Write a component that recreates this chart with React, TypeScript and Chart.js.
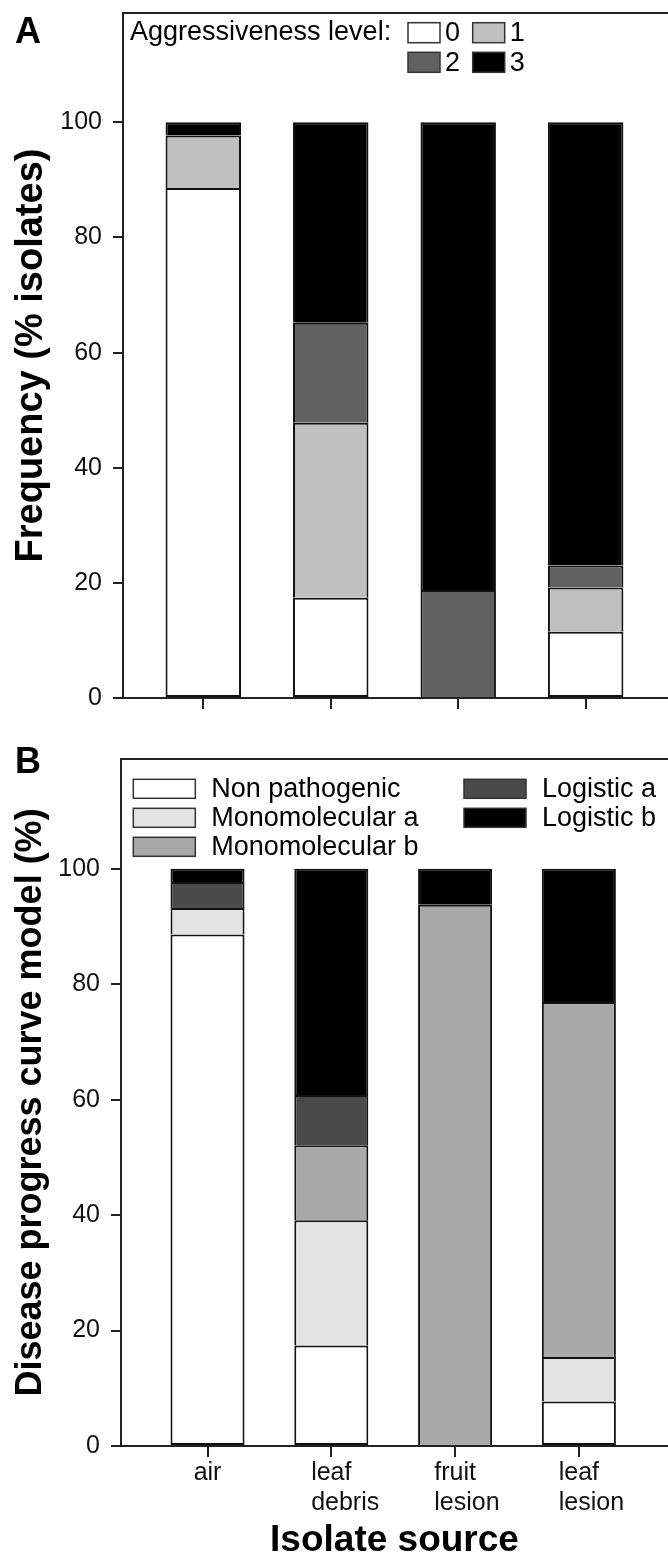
import React, { useEffect, useRef } from "react";
import { Chart, registerables } from "chart.js";

Chart.register(...registerables);

// ---------- data ----------
const categories: (string | string[])[] = ["air", ["leaf", "debris"], ["fruit", "lesion"], ["leaf", "lesion"]];
const yTicks = [0, 20, 40, 60, 80, 100];

// Panel A: aggressiveness level (% isolates)
const aggLevels = ["0", "1", "2", "3"];
const aggLevel0 = [88.6, 17.4, 0, 11.5];
const aggLevel1 = [9.1, 30.4, 0, 7.7];
const aggLevel2 = [0, 17.4, 18.75, 3.8];
const aggLevel3 = [2.3, 34.8, 81.25, 77.0];

// Panel B: disease progress curve model (%)
const modelNames = ["Non pathogenic", "Monomolecular a", "Monomolecular b", "Logistic a", "Logistic b"];
const nonPathogenic = [88.6, 17.4, 0, 7.7];
const monomolecularA = [4.6, 21.7, 0, 7.7];
const monomolecularB = [0, 13.0, 93.75, 61.5];
const logisticA = [4.5, 8.7, 0, 0];
const logisticB = [2.3, 39.2, 6.25, 23.1];

const aggColors = ["#ffffff", "#c0c0c0", "#616161", "#000000"];
const modelColors = ["#ffffff", "#e3e3e3", "#a9a9a9", "#4a4a4a", "#000000"];

const FONT = '"Liberation Sans", Arial, Helvetica, sans-serif';

type Spec = {
  top: number;
  height: number;
  padTop: number;
  yWidth: number;
  xHeight: number;
  xMin: number;
  xMax: number;
  catPct: number;
  yTitle: string;
  yTitleSize: number;
  xTitle: string | null;
  showLabels: boolean;
  letter: string;
  names: string[];
  series: number[][];
  colors: string[];
  legend: {
    title: string | null;
    titleX: number;
    titleY: number;
    fontSize: number;
    boxW: number;
    boxH: number;
    textGap: number;
    pos: (i: number) => [number, number];
  };
};

const specA: Spec = {
  top: 0,
  height: 740,
  padTop: 13,
  yWidth: 123,
  xHeight: 42,
  xMin: -0.63,
  xMax: 3.646,
  catPct: 0.592,
  yTitle: "Frequency (% isolates)",
  yTitleSize: 38,
  xTitle: null,
  showLabels: false,
  letter: "A",
  names: aggLevels,
  series: [aggLevel0, aggLevel1, aggLevel2, aggLevel3],
  colors: aggColors,
  legend: {
    title: "Aggressiveness level:",
    titleX: 130,
    titleY: 33,
    fontSize: 27,
    boxW: 32,
    boxH: 20,
    textGap: 37,
    pos: (i) => [408 + (i % 2) * 64.7, 22.7 + Math.floor(i / 2) * 29.6],
  },
};

const specB: Spec = {
  top: 730,
  height: 826,
  padTop: 29,
  yWidth: 121,
  xHeight: 110,
  xMin: -0.699,
  xMax: 3.72,
  catPct: 0.598,
  yTitle: "Disease progress curve model (%)",
  yTitleSize: 36,
  xTitle: "Isolate source",
  showLabels: true,
  letter: "B",
  names: modelNames,
  series: [nonPathogenic, monomolecularA, monomolecularB, logisticA, logisticB],
  colors: modelColors,
  legend: {
    title: null,
    titleX: 0,
    titleY: 0,
    fontSize: 27,
    boxW: 62,
    boxH: 19,
    textGap: 78,
    pos: (i) => (i < 3 ? [133.3, 49.3 + i * 29] : [464, 49.3 + (i - 3) * 29]),
  },
};

function buildChart(canvas: HTMLCanvasElement, spec: Spec) {
  const decor = {
    id: "decor" + spec.letter,
    afterDraw(chart: any) {
      const ctx = chart.ctx as CanvasRenderingContext2D;
      const { left, right, top, bottom } = chart.chartArea;
      ctx.save();
      // top frame line
      ctx.strokeStyle = "#222";
      ctx.lineWidth = 2;
      ctx.beginPath();
      ctx.moveTo(left - 1, top);
      ctx.lineTo(right, top);
      ctx.stroke();
      // panel letter
      ctx.fillStyle = "#000";
      ctx.font = `bold 36px ${FONT}`;
      ctx.textBaseline = "alphabetic";
      ctx.textAlign = "left";
      ctx.fillText(spec.letter, 15, 43);
      // category labels: first line centred on the tick, following lines left-aligned with it
      if (spec.showLabels) {
        const xs = chart.scales.x;
        ctx.font = `25px ${FONT}`;
        ctx.fillStyle = "#111";
        categories.forEach((lab, i) => {
          const lines = Array.isArray(lab) ? lab : [lab];
          const cx = xs.getPixelForValue(i);
          const w0 = ctx.measureText(lines[0]).width;
          lines.forEach((ln, k) => {
            ctx.fillText(ln, cx - w0 / 2, bottom + 34 + k * 30);
          });
        });
      }
      // legend
      const lg = spec.legend;
      ctx.font = `${lg.fontSize}px ${FONT}`;
      ctx.textBaseline = "middle";
      if (lg.title) {
        ctx.fillStyle = "#000";
        ctx.fillText(lg.title, lg.titleX, lg.titleY);
      }
      chart.data.datasets.forEach((ds: any, i: number) => {
        const [bx, by] = lg.pos(i);
        ctx.fillStyle = ds.backgroundColor;
        ctx.fillRect(bx, by, lg.boxW, lg.boxH);
        ctx.strokeStyle = "#333";
        ctx.lineWidth = 1.5;
        ctx.strokeRect(bx, by, lg.boxW, lg.boxH);
        ctx.fillStyle = "#000";
        ctx.fillText(ds.label, bx + lg.textGap, by + lg.boxH / 2 + 1);
      });
      ctx.restore();
    },
  };

  return new Chart(canvas, {
    type: "bar",
    data: {
      datasets: spec.series.map((vals, k) => ({
        label: spec.names[k],
        data: vals.map((v, i) => ({ x: i, y: v === 0 ? null : v })),
        backgroundColor: spec.colors[k],
        borderColor: "#111",
        borderWidth: 2,
        borderSkipped: k === 0 ? false : "bottom",
        categoryPercentage: spec.catPct,
        barPercentage: 1,
        inflateAmount: 0,
      })),
    } as any,
    options: {
      responsive: false,
      animation: false,
      devicePixelRatio: 1,
      layout: { padding: { top: spec.padTop, left: 0, right: 0, bottom: 0 } },
      plugins: {
        legend: { display: false },
        tooltip: { enabled: false },
      },
      scales: {
        x: {
          type: "linear",
          min: spec.xMin,
          max: spec.xMax,
          stacked: true,
          offset: false,
          afterBuildTicks: (s: any) => {
            s.ticks = categories.map((_, i) => ({ value: i }));
          },
          afterFit: (s: any) => {
            s.height = spec.xHeight;
            s.paddingLeft = 0;
            s.paddingRight = 0;
          },
          ticks: {
            autoSkip: false,
            maxRotation: 0,
            padding: 1,
            color: "#111",
            font: { family: FONT, size: 25, lineHeight: 1.2 },
            callback: () => "",
          },
          grid: {
            display: true,
            offset: false,
            drawOnChartArea: false,
            drawTicks: true,
            tickLength: 11,
            color: "#222",
            lineWidth: 2,
          },
          border: { display: true, color: "#222", width: 2 },
          title: spec.xTitle
            ? {
                display: true,
                text: spec.xTitle,
                color: "#000",
                font: { family: FONT, size: 37, weight: "bold", lineHeight: 0.8 },
                padding: { top: 0, bottom: 0 },
              }
            : { display: false },
        },
        y: {
          type: "linear",
          min: 0,
          max: 119,
          stacked: true,
          afterBuildTicks: (s: any) => {
            s.ticks = yTicks.map((v) => ({ value: v }));
          },
          afterFit: (s: any) => {
            s.width = spec.yWidth;
            s.paddingTop = 0;
            s.paddingBottom = 0;
          },
          ticks: {
            padding: 11,
            color: "#111",
            font: { family: FONT, size: 25 },
          },
          grid: {
            display: true,
            offset: false,
            drawOnChartArea: false,
            drawTicks: true,
            tickLength: 10,
            color: "#222",
            lineWidth: 2,
          },
          border: { display: true, color: "#222", width: 2 },
          title: {
            display: true,
            text: spec.yTitle,
            color: "#000",
            font: { family: FONT, size: spec.yTitleSize, weight: "bold", lineHeight: 1 },
            padding: { top: 13, bottom: 0 },
          },
        },
      },
    } as any,
    plugins: [decor],
  });
}

function Panel({ spec }: { spec: Spec }) {
  const ref = useRef<HTMLCanvasElement | null>(null);
  useEffect(() => {
    if (!ref.current) return;
    const chart = buildChart(ref.current, spec);
    return () => chart.destroy();
  }, [spec]);
  return (
    <canvas
      ref={ref}
      width={668}
      height={spec.height}
      style={{ position: "absolute", left: 0, top: spec.top, width: 668, height: spec.height, display: "block" }}
    />
  );
}

export default function App() {
  return (
    <div
      style={{
        position: "absolute",
        left: 0,
        top: 0,
        width: 668,
        height: 1556,
        overflow: "hidden",
        background: "#ffffff",
      }}
    >
      <Panel spec={specA} />
      <Panel spec={specB} />
    </div>
  );
}
